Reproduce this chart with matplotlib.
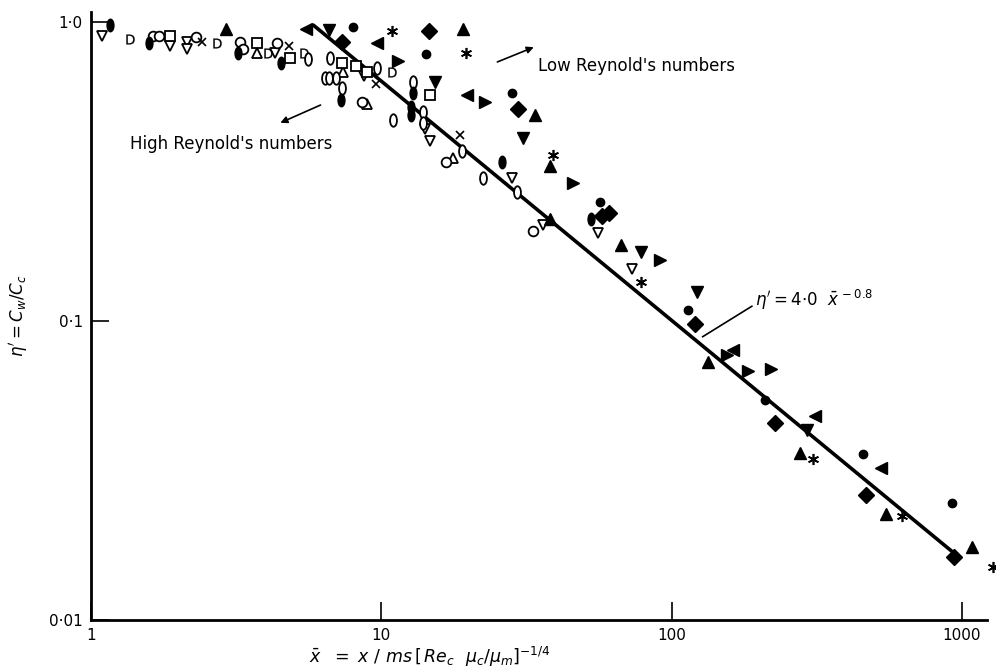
import numpy as np
import matplotlib
matplotlib.use("Agg")
import matplotlib.pyplot as plt
from matplotlib.path import Path
from matplotlib.transforms import Affine2D

# ---- data ----
open_dn_x = [1.09, 1.87, 2.14, 2.14, 4.30, 8.7, 14.1, 14.7, 28.1, 36, 55.6, 73]
open_dn_y = [0.90, 0.83, 0.86, 0.81, 0.79, 0.66, 0.44, 0.40, 0.30, 0.21, 0.197, 0.149]
open_up_x = [3.73, 7.4, 8.9, 17.6]
open_up_y = [0.79, 0.68, 0.53, 0.35]
open_circ_x = [1.63, 1.72, 2.30, 3.26, 3.33, 4.37, 8.6, 16.7, 33.3]
open_circ_y = [0.90, 0.90, 0.89, 0.86, 0.81, 0.85, 0.54, 0.34, 0.20]
open_sq_x = [1.87, 3.73, 4.84, 7.3, 8.2, 8.9, 14.7]
open_sq_y = [0.90, 0.85, 0.76, 0.73, 0.71, 0.68, 0.57]
open_d_x = [1.36, 2.71, 4.07, 5.42, 10.9]
open_d_y = [0.88, 0.85, 0.79, 0.79, 0.68]
cross_x = [2.41, 4.80, 9.6, 18.6]
cross_y = [0.86, 0.83, 0.62, 0.42]
open_ell_x = [5.6, 6.4, 6.6, 6.67, 7.0, 9.7, 12.9, 7.3, 11.0, 13.9, 13.9, 18.9, 22.4, 29.3]
open_ell_y = [0.75, 0.65, 0.65, 0.76, 0.65, 0.70, 0.63, 0.60, 0.47, 0.50, 0.46, 0.37, 0.30, 0.27]
fill_ell_x = [1.16, 1.58, 3.20, 4.51, 7.25, 12.7, 12.7, 12.9, 26, 52.9]
fill_ell_y = [0.98, 0.85, 0.79, 0.73, 0.55, 0.52, 0.49, 0.58, 0.34, 0.22]

tri_up_x = [2.92, 19.1, 33.8, 38.1, 38.1, 66.7, 134, 278, 550, 1085]
tri_up_y = [0.95, 0.95, 0.49, 0.22, 0.33, 0.18, 0.073, 0.0362, 0.0226, 0.0175]
tri_dn_x = [6.6, 15.3, 30.7, 78.5, 122, 292]
tri_dn_y = [0.94, 0.63, 0.41, 0.17, 0.125, 0.0433]
tri_lt_x = [5.5, 9.7, 19.7, 163, 311, 527]
tri_lt_y = [0.95, 0.85, 0.57, 0.080, 0.048, 0.0322]
tri_rt_x = [11.4, 22.7, 45.6, 91, 155, 184, 220]
tri_rt_y = [0.74, 0.54, 0.29, 0.16, 0.077, 0.068, 0.069]
dot_x = [8.0, 14.3, 28.1, 56.8, 114, 209, 457, 925]
dot_y = [0.96, 0.78, 0.58, 0.25, 0.109, 0.0546, 0.036, 0.0247]
dia_x = [7.3, 14.6, 29.5, 57.5, 61, 120, 228, 468, 940]
dia_y = [0.86, 0.93, 0.51, 0.225, 0.23, 0.098, 0.0457, 0.0261, 0.0162]
star_x = [10.9, 19.5, 39, 78.5, 307, 623, 1280]
star_y = [0.93, 0.79, 0.36, 0.135, 0.0346, 0.0222, 0.015]

fit_a = 4.0
fit_b = -0.8
fit_range = [5.8, 950]

x_ticks = [1, 10, 100, 1000]
x_ticklabels = ["1", "10", "100", "1000"]
y_ticks = [0.01, 0.1, 1.0]
y_ticklabels = ["0·01", "0·1", "1·0"]

# ellipse marker
ell = Path.unit_circle().transformed(Affine2D().scale(0.55, 1.0))

fig = plt.figure(figsize=(9.96, 6.72), dpi=100)
ax = fig.add_axes([0.0914, 0.0774, 0.8996, 0.9048])
ax.set_xscale("log")
ax.set_yscale("log")
ax.set_xlim(1, 1221)
ax.set_ylim(0.01, 1.08)

# correlation line
xf = np.array(fit_range)
ax.plot(xf, fit_a * xf ** fit_b, color="black", lw=2.6, zorder=2, solid_capstyle="butt")

k = dict(linestyle="none", color="black", clip_on=False, zorder=3)
ax.plot(open_dn_x, open_dn_y, marker="v", ms=7.5, mfc="white", mew=1.3, **k)
ax.plot(open_up_x, open_up_y, marker="^", ms=7.5, mfc="white", mew=1.3, **k)
ax.plot(open_circ_x, open_circ_y, marker="o", ms=7, mfc="white", mew=1.3, **k)
ax.plot(open_sq_x, open_sq_y, marker="s", ms=7, mfc="white", mew=1.3, **k)
ax.plot(open_d_x, open_d_y, marker="$\\mathsf{D}$", ms=7, mew=0.2, **k)
ax.plot(cross_x, cross_y, marker="x", ms=6, mew=1.2, **k)
ax.plot(open_ell_x, open_ell_y, marker=ell, ms=9, mfc="white", mew=1.3, **k)
ax.plot(fill_ell_x, fill_ell_y, marker=ell, ms=9, mfc="black", mew=1.0, **k)
ax.plot(tri_up_x, tri_up_y, marker="^", ms=8.5, **k)
ax.plot(tri_dn_x, tri_dn_y, marker="v", ms=8.5, **k)
ax.plot(tri_lt_x, tri_lt_y, marker="<", ms=8.5, **k)
ax.plot(tri_rt_x, tri_rt_y, marker=">", ms=8.5, **k)
ax.plot(dot_x, dot_y, marker="o", ms=6, **k)
ax.plot(dia_x, dia_y, marker="D", ms=8, **k)
ax.plot(star_x, star_y, marker=(6, 2, 0), ms=8, mew=1.2, **k)

# annotations
ax.text(34.7, 0.713, "Low Reynold's numbers", fontsize=12, va="center", ha="left")
ax.annotate("", xy=(34.2, 0.83), xytext=(24.6, 0.729),
            arrowprops=dict(arrowstyle="-|>", color="black", lw=1.2, mutation_scale=10))
ax.text(1.36, 0.391, "High Reynold's numbers", fontsize=12, va="center", ha="left")
ax.annotate("", xy=(4.40, 0.456), xytext=(6.30, 0.532),
            arrowprops=dict(arrowstyle="-|>", color="black", lw=1.2, mutation_scale=10))
ax.text(194, 0.118, r"$\eta' = 4{\cdot}0\ \ \bar{x}^{\,-0.8}$", fontsize=12,
        va="center", ha="left")
ax.plot([128, 189], [0.0886, 0.112], color="black", lw=1.2)

# axes styling
for s in ["top", "right"]:
    ax.spines[s].set_visible(False)
for s in ["left", "bottom"]:
    ax.spines[s].set_linewidth(2.0)
ax.set_xticks(x_ticks)
ax.set_xticklabels(x_ticklabels, fontsize=11)
ax.set_yticks(y_ticks)
ax.set_yticklabels(y_ticklabels, fontsize=11)
ax.minorticks_off()
ax.tick_params(axis="both", which="major", direction="in", length=13, width=1.2, pad=6)

ax.set_xlabel(r"$\bar{x}\ \ =\ x\ /\ ms\,[\,Re_c\ \ \mu_c/\mu_m]^{-1/4}$", fontsize=12.5)
ax.xaxis.set_label_coords(0.378, -0.041)
ax.set_ylabel(r"$\eta' = C_w/C_c$", fontsize=12, labelpad=14)

fig.savefig("out.png", dpi=100)
